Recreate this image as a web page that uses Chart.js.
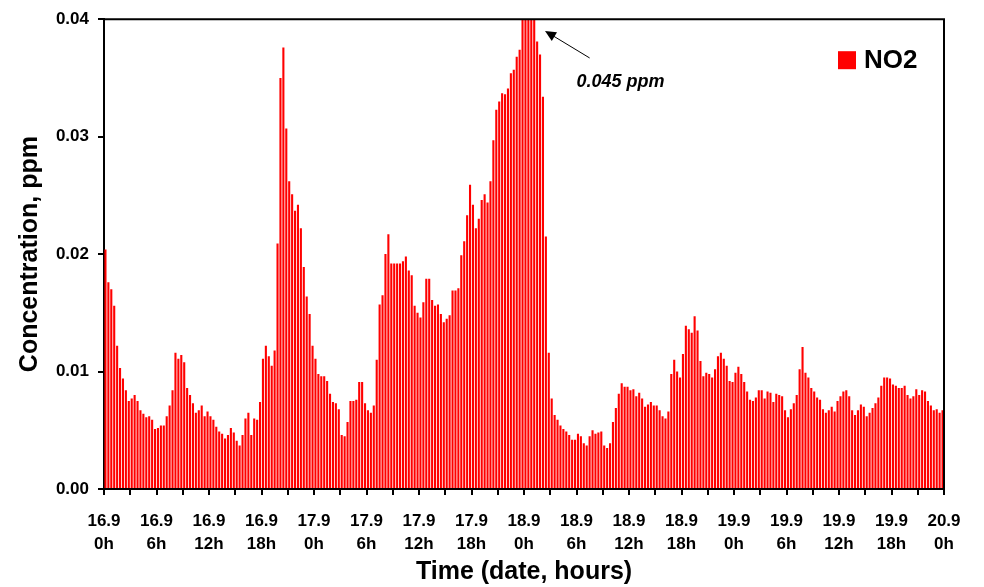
<!DOCTYPE html>
<html>
<head>
<meta charset="utf-8">
<script src="https://cdn.jsdelivr.net/npm/chart.js@4.4.1/dist/chart.umd.min.js"></script>
<style>
  html, body { margin: 0; padding: 0; background: #fff; }
  #chart { display: block; }
</style>
</head>
<body>
<canvas id="chart" width="984" height="587"></canvas>
<script>
// NO2 readings, one bar every 20 minutes (72 per day)
const day16 = [
  0.0204, 0.0176, 0.0170, 0.0156, 0.0122, 0.0103, 0.0094, 0.0084, 0.0075, 0.0077, 0.0080, 0.0075,
  0.0067, 0.0064, 0.0061, 0.0062, 0.0059, 0.0051, 0.0052, 0.0054, 0.0054, 0.0062, 0.0071, 0.0084,
  0.0116, 0.0111, 0.0114, 0.0108, 0.0086, 0.0080, 0.0073, 0.0065, 0.0067, 0.0071, 0.0062, 0.0066,
  0.0062, 0.0059, 0.0053, 0.0049, 0.0047, 0.0043, 0.0046, 0.0052, 0.0048, 0.0041, 0.0037, 0.0046,
  0.0060, 0.0065, 0.0046, 0.0060, 0.0059, 0.0074, 0.0111, 0.0122, 0.0113, 0.0105, 0.0118, 0.0209,
  0.0350, 0.0376, 0.0307, 0.0262, 0.0251, 0.0237, 0.0242, 0.0222, 0.0189, 0.0164, 0.0149, 0.0122
];
const day17 = [
  0.0111, 0.0098, 0.0096, 0.0096, 0.0092, 0.0081, 0.0074, 0.0073, 0.0068, 0.0046, 0.0045, 0.0057,
  0.0075, 0.0075, 0.0076, 0.0091, 0.0091, 0.0073, 0.0067, 0.0065, 0.0071, 0.0110, 0.0157, 0.0165,
  0.0200, 0.0217, 0.0192, 0.0192, 0.0192, 0.0192, 0.0194, 0.0198, 0.0186, 0.0182, 0.0156, 0.0150,
  0.0146, 0.0159, 0.0179, 0.0179, 0.0161, 0.0156, 0.0157, 0.0149, 0.0142, 0.0145, 0.0148, 0.0169,
  0.0169, 0.0171, 0.0199, 0.0211, 0.0233, 0.0259, 0.0242, 0.0222, 0.0230, 0.0246, 0.0251, 0.0244,
  0.0262, 0.0297, 0.0323, 0.0330, 0.0337, 0.0336, 0.0341, 0.0354, 0.0357, 0.0368, 0.0374, 0.0410
];
const day18 = [
  0.0430, 0.0450, 0.0440, 0.0420, 0.0381, 0.0370, 0.0334, 0.0215, 0.0116, 0.0077, 0.0063, 0.0059,
  0.0054, 0.0051, 0.0049, 0.0046, 0.0042, 0.0042, 0.0047, 0.0045, 0.0039, 0.0037, 0.0045, 0.0050,
  0.0047, 0.0048, 0.0049, 0.0037, 0.0035, 0.0039, 0.0057, 0.0069, 0.0081, 0.0090, 0.0087, 0.0087,
  0.0084, 0.0085, 0.0079, 0.0082, 0.0077, 0.0070, 0.0072, 0.0074, 0.0071, 0.0071, 0.0067, 0.0062,
  0.0060, 0.0066, 0.0098, 0.0110, 0.0100, 0.0095, 0.0115, 0.0139, 0.0136, 0.0133, 0.0147, 0.0135,
  0.0109, 0.0096, 0.0099, 0.0098, 0.0095, 0.0102, 0.0113, 0.0116, 0.0111, 0.0105, 0.0092, 0.0091
];
const day19 = [
  0.0099, 0.0104, 0.0098, 0.0091, 0.0083, 0.0076, 0.0075, 0.0078, 0.0084, 0.0084, 0.0077, 0.0083,
  0.0082, 0.0074, 0.0081, 0.0080, 0.0079, 0.0067, 0.0061, 0.0068, 0.0073, 0.0080, 0.0102, 0.0121,
  0.0099, 0.0095, 0.0086, 0.0083, 0.0078, 0.0076, 0.0068, 0.0065, 0.0067, 0.0070, 0.0066, 0.0075,
  0.0079, 0.0083, 0.0084, 0.0079, 0.0067, 0.0063, 0.0067, 0.0072, 0.0070, 0.0062, 0.0065, 0.0069,
  0.0073, 0.0078, 0.0088, 0.0095, 0.0095, 0.0094, 0.0089, 0.0088, 0.0086, 0.0086, 0.0088, 0.0080,
  0.0077, 0.0079, 0.0085, 0.0080, 0.0084, 0.0083, 0.0075, 0.0071, 0.0067, 0.0068, 0.0065, 0.0067
];

const days = ["16.9", "17.9", "18.9", "19.9"];
const tickDates = ["16.9", "16.9", "16.9", "16.9", "17.9", "17.9", "17.9", "17.9",
  "18.9", "18.9", "18.9", "18.9", "19.9", "19.9", "19.9", "19.9", "20.9"];
const tickHours = ["0h", "6h", "12h", "18h", "0h", "6h", "12h", "18h",
  "0h", "6h", "12h", "18h", "0h", "6h", "12h", "18h", "0h"];
const yTicks = [0, 0.01, 0.02, 0.03, 0.04];

// the off-scale peak note (hours, ppm)
const noteTip = [50.4, 0.0390];
const noteTail = [55.5, 0.0367];
const noteAt = [54.0, 0.0342];
const noteText = "0.045 ppm";

const no2 = [...day16, ...day17, ...day18, ...day19];
const times = [];
days.forEach(d => {
  for (let m = 0; m < 1440; m += 20) {
    times.push(d + " " + Math.floor(m / 60) + ":" + String(m % 60).padStart(2, "0"));
  }
});
// labelled ticks every 6 hours, unlabelled marks in between
const labelHours = [];
for (let h = 0; h <= 96; h += 6) labelHours.push(h);
const minorHours = labelHours.slice(0, -1).map(h => h + 3);

const FONT = "'Liberation Sans', Arial, Helvetica, sans-serif";

const frameAndNotes = {
  id: "frameAndNotes",
  afterDraw(chart) {
    const { ctx, chartArea: a, scales } = chart;
    const t = scales.time, y = scales.y;
    ctx.save();

    // top + right side of the box
    ctx.strokeStyle = "#000";
    ctx.lineWidth = 2;
    ctx.beginPath();
    ctx.moveTo(a.left, a.top);
    ctx.lineTo(a.right, a.top);
    ctx.lineTo(a.right, a.bottom);
    ctx.stroke();

    // 3-hour tick marks between the labelled ones
    ctx.beginPath();
    minorHours.forEach(h => {
      const px = Math.round(t.getPixelForValue(h));
      ctx.moveTo(px, a.bottom);
      ctx.lineTo(px, a.bottom + 6);
    });
    ctx.stroke();

    // arrow to the clipped peak
    const x0 = t.getPixelForValue(noteTail[0]), y0 = y.getPixelForValue(noteTail[1]);
    const x1 = t.getPixelForValue(noteTip[0]), y1 = y.getPixelForValue(noteTip[1]);
    const ang = Math.atan2(y1 - y0, x1 - x0);
    ctx.lineWidth = 1;
    ctx.beginPath();
    ctx.moveTo(x0, y0);
    ctx.lineTo(x1 - 8 * Math.cos(ang), y1 - 8 * Math.sin(ang));
    ctx.stroke();
    ctx.fillStyle = "#000";
    ctx.beginPath();
    ctx.moveTo(x1, y1);
    ctx.lineTo(x1 - 11 * Math.cos(ang) + 5 * Math.sin(ang), y1 - 11 * Math.sin(ang) - 5 * Math.cos(ang));
    ctx.lineTo(x1 - 11 * Math.cos(ang) - 5 * Math.sin(ang), y1 - 11 * Math.sin(ang) + 5 * Math.cos(ang));
    ctx.closePath();
    ctx.fill();

    ctx.font = "italic bold 18px " + FONT;
    ctx.textAlign = "left";
    ctx.textBaseline = "alphabetic";
    ctx.fillText(noteText, t.getPixelForValue(noteAt[0]), y.getPixelForValue(noteAt[1]));

    // legend inside the plot, top right
    const ds = chart.data.datasets[0];
    ctx.fillStyle = ds.backgroundColor;
    ctx.fillRect(a.right - 106, a.top + 32, 18, 18);
    ctx.fillStyle = "#000";
    ctx.font = "bold 26px " + FONT;
    ctx.textBaseline = "middle";
    ctx.fillText(ds.label, a.right - 80, a.top + 42);
    ctx.restore();
  }
};

new Chart(document.getElementById("chart"), {
  type: "bar",
  data: {
    labels: times,
    datasets: [{
      label: "NO2",
      data: no2,
      backgroundColor: "#ff0000",
      borderWidth: 0,
      barPercentage: 0.72,
      categoryPercentage: 1.0
    }]
  },
  options: {
    responsive: false,
    animation: false,
    devicePixelRatio: 1,
    layout: { padding: { left: 10, right: 40, top: 15, bottom: 0 } },
    plugins: {
      legend: { display: false },
      tooltip: { enabled: false }
    },
    scales: {
      x: {
        type: "category",
        display: false,
        offset: true,
        grid: { offset: true }
      },
      time: {
        type: "linear",
        position: "bottom",
        min: 0,
        max: 96,
        offset: false,
        afterFit: (s) => { s.height = 98; },
        afterBuildTicks: (s) => { s.ticks = labelHours.map(h => ({ value: h })); },
        ticks: {
          autoSkip: false,
          maxRotation: 0,
          color: "#000",
          padding: 14,
          font: { family: FONT, size: 17, weight: "bold", lineHeight: 1.4 },
          callback: (v) => [tickDates[v / 6], tickHours[v / 6]]
        },
        grid: { offset: false, drawOnChartArea: false, color: "#000", lineWidth: 2, tickLength: 6 },
        border: { color: "#000", width: 2 },
        title: {
          display: true,
          text: "Time (date, hours)",
          color: "#000",
          font: { family: FONT, size: 25, weight: "bold" },
          padding: { top: 0, bottom: 0 }
        }
      },
      y: {
        min: 0,
        max: 0.04,
        afterFit: (s) => { s.width = 94; },
        afterBuildTicks: (s) => { s.ticks = yTicks.map(v => ({ value: v })); },
        ticks: {
          color: "#000",
          padding: 9,
          font: { family: FONT, size: 17, weight: "bold" },
          callback: (v) => Number(v).toFixed(2)
        },
        grid: { drawOnChartArea: false, color: "#000", lineWidth: 2, tickLength: 6 },
        border: { color: "#000", width: 2 },
        title: {
          display: true,
          text: "Concentration, ppm",
          color: "#000",
          font: { family: FONT, size: 25, weight: "bold" },
          padding: { top: 5, bottom: 0 }
        }
      }
    }
  },
  plugins: [frameAndNotes]
});
</script>
</body>
</html>
